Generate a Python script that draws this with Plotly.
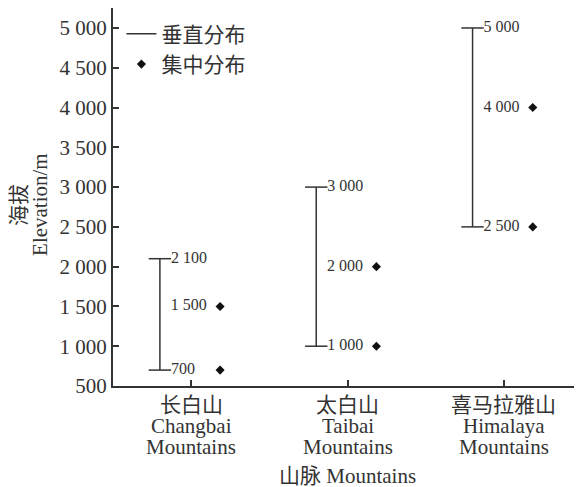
import plotly.graph_objects as go

mountain_zh = ["长白山", "太白山", "喜马拉雅山"]
mountain_en1 = ["Changbai", "Taibai", "Himalaya"]
mountain_en2 = ["Mountains", "Mountains", "Mountains"]
vert_low = [700, 1000, 2500]
vert_high = [2100, 3000, 5000]
conc_values = [[1500, 700], [2000, 1000], [4000, 2500]]
y_ticks = [500, 1000, 1500, 2000, 2500, 3000, 3500, 4000, 4500, 5000]

def fmt(v):
    return f"{v:,}".replace(",", " ")

FONT = "Liberation Serif, Times New Roman, Noto Sans CJK SC, serif"
LINE_OFF = -0.2
PT_OFF = 0.185
INK = "#333333"
FS = 21

fig = go.Figure()

for i in range(len(mountain_zh)):
    x = i + LINE_OFF
    fig.add_trace(go.Scatter(
        x=[x, x], y=[vert_low[i], vert_high[i]], mode="lines",
        line=dict(color=INK, width=1.5), name="垂直分布",
        legendgroup="v", showlegend=(i == 0), hoverinfo="skip"))
    fig.add_trace(go.Scatter(
        x=[x, x], y=[vert_low[i], vert_high[i]], mode="markers+text",
        marker=dict(symbol="line-ew-open", size=16, line=dict(color=INK, width=1.5), color=INK),
        text=[fmt(vert_low[i]), fmt(vert_high[i])], textposition="middle right",
        textfont=dict(family=FONT, size=16, color=INK),
        showlegend=False, legendgroup="v", hoverinfo="skip"))

for i in range(len(mountain_zh)):
    vals = conc_values[i]
    labels = ["" if v in (vert_low[i], vert_high[i]) else fmt(v) + "  " for v in vals]
    fig.add_trace(go.Scatter(
        x=[i + PT_OFF] * len(vals), y=vals, mode="markers+text",
        marker=dict(symbol="diamond", size=7, color="#111111"),
        text=labels, textposition="middle left",
        textfont=dict(family=FONT, size=16, color=INK),
        name="集中分布", legendgroup="c", showlegend=(i == 0), hoverinfo="skip"))

annotations = []
for i in range(len(mountain_zh)):
    for txt, dy in ((mountain_zh[i], -19), (mountain_en1[i], -40), (mountain_en2[i], -61)):
        annotations.append(dict(x=i, xref="x", y=0, yref="paper", text=txt,
                                showarrow=False, yanchor="middle", xanchor="center",
                                yshift=dy, font=dict(family=FONT, size=FS, color=INK)))
annotations.append(dict(x=0.5, xref="paper", y=0, yref="paper", text="山脉 Mountains",
                        showarrow=False, yanchor="middle", xanchor="center", yshift=-90,
                        font=dict(family=FONT, size=FS, color=INK)))
annotations.append(dict(x=0, xref="paper", y=0.479, yref="paper", text="海拔",
                        showarrow=False, xanchor="center", yanchor="middle", xshift=-94,
                        textangle=-90, font=dict(family=FONT, size=FS, color=INK)))
annotations.append(dict(x=0, xref="paper", y=0.479, yref="paper", text="Elevation/m",
                        showarrow=False, xanchor="center", yanchor="middle", xshift=-73,
                        textangle=-90, font=dict(family=FONT, size=FS, color=INK)))

fig.update_layout(
    width=574, height=479,
    margin=dict(l=105, r=0, t=0, b=101),
    paper_bgcolor="white", plot_bgcolor="white",
    font=dict(family=FONT, color=INK, size=FS),
    legend=dict(x=0.018, y=0.985, xanchor="left", yanchor="top",
                bgcolor="rgba(0,0,0,0)", font=dict(size=FS, family=FONT),
                itemwidth=30, tracegroupgap=0),
    showlegend=True,
    annotations=annotations,
)
fig.update_xaxes(
    range=[-0.5, 2.5], tickvals=list(range(len(mountain_zh))), ticktext=[""] * 3,
    showgrid=False, zeroline=False, showline=True, linecolor=INK, linewidth=2,
    ticks="inside", ticklen=6, tickwidth=1.5, tickcolor=INK, automargin=False,
)
fig.update_yaxes(
    range=[500, 5251], tickvals=y_ticks, ticktext=[fmt(v) for v in y_ticks],
    showgrid=False, zeroline=False, showline=True, linecolor=INK, linewidth=2,
    ticks="inside", ticklen=6, tickwidth=1.5, tickcolor=INK, automargin=False,
    tickfont=dict(size=FS, family=FONT),
)

fig.write_html("out.html")
